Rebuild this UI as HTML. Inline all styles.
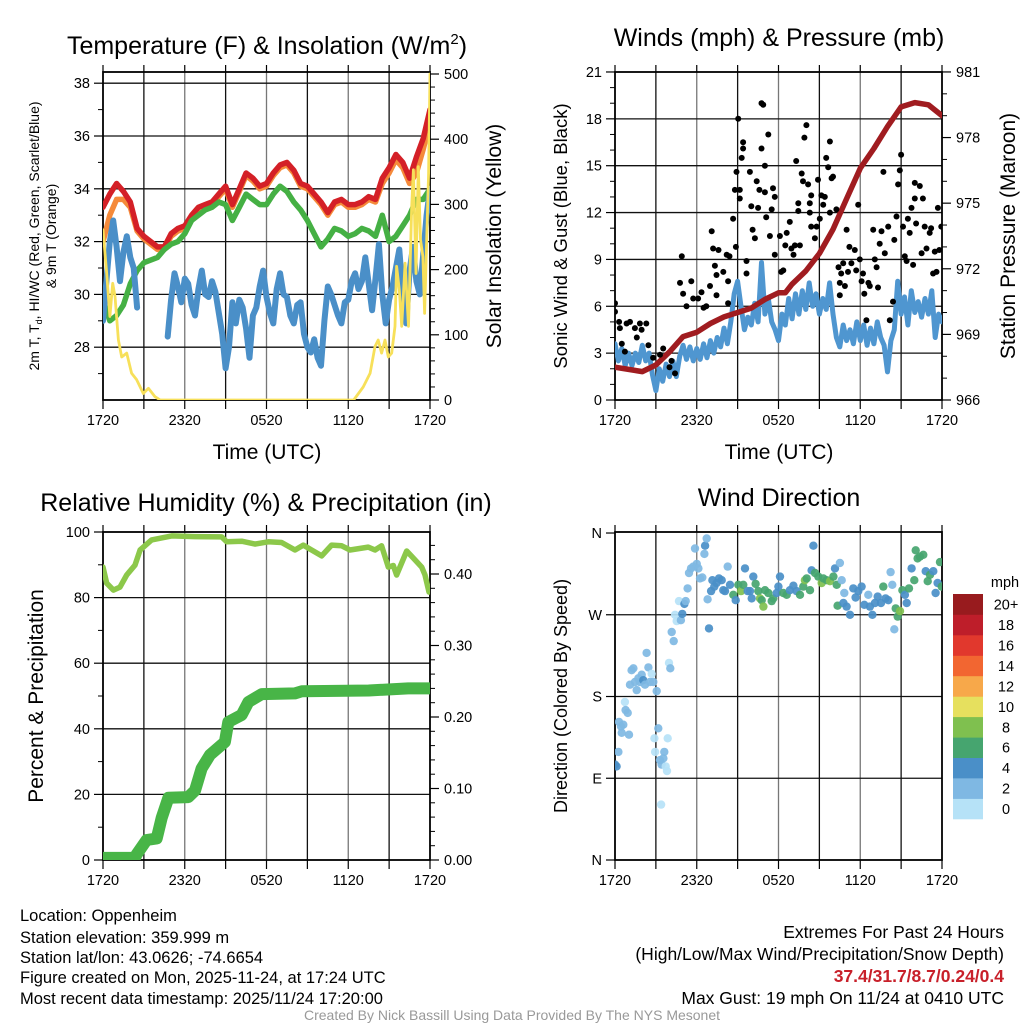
<!DOCTYPE html>
<html><head><meta charset="utf-8">
<style>
html,body{margin:0;padding:0;background:#fff;}
svg{display:block;font-family:"Liberation Sans",Arial,sans-serif;}
</style></head>
<body>
<svg id="fig" xmlns="http://www.w3.org/2000/svg" width="1024" height="1024" viewBox="0 0 1024 1024">
<rect x="0" y="0" width="1024" height="1024" fill="#fff"/>
<defs>
<clipPath id="c1"><rect x="103" y="72" width="327" height="328"/></clipPath>
<clipPath id="c2"><rect x="615" y="72" width="327" height="328"/></clipPath>
<clipPath id="c3"><rect x="103" y="532" width="327" height="328"/></clipPath>
<clipPath id="c4"><rect x="615" y="532" width="327" height="328"/></clipPath>
</defs>
<g id="layer"></g>
<g font-size="25" text-anchor="middle" fill="#000">
<text x="267" y="54">Temperature (F) &amp; Insolation (W/m<tspan font-size="15" dy="-10">2</tspan><tspan dy="10">)</tspan></text>
<text x="779" y="46">Winds (mph) &amp; Pressure (mb)</text>
<text x="266" y="511">Relative Humidity (%) &amp; Precipitation (in)</text>
<text x="779" y="506">Wind Direction</text>
</g>
<g font-size="21" text-anchor="middle">
<text x="267" y="459">Time (UTC)</text>
<text x="779" y="459">Time (UTC)</text>
<text transform="translate(39,236) rotate(-90)" font-size="14">2m T, T<tspan font-size="9" dy="3">d</tspan><tspan dy="-3">, HI/WC (Red, Green, Scarlet/Blue)</tspan></text>
<text transform="translate(56,236) rotate(-90)" font-size="14">&amp; 9m T (Orange)</text>
<text transform="translate(501,236) rotate(-90)">Solar Insolation (Yellow)</text>
<text transform="translate(567,236) rotate(-90)" font-size="18.5">Sonic Wind &amp; Gust (Blue, Black)</text>
<text transform="translate(1015,236) rotate(-90)">Station Pressure (Maroon)</text>
<text transform="translate(43,696) rotate(-90)">Percent &amp; Precipitation</text>
<text transform="translate(567,696) rotate(-90)" font-size="18">Direction (Colored By Speed)</text>
</g>
<g font-size="16.5" fill="#000">
<text x="20" y="921">Location: Oppenheim</text>
<text x="20" y="943">Station elevation: 359.999 m</text>
<text x="20" y="963">Station lat/lon: 43.0626; -74.6654</text>
<text x="20" y="983">Figure created on Mon, 2025-11-24, at 17:24 UTC</text>
<text x="20" y="1004">Most recent data timestamp: 2025/11/24 17:20:00</text>
</g>
<g font-size="17.5" text-anchor="end" fill="#000">
<text x="1004" y="938">Extremes For Past 24 Hours</text>
<text x="1004" y="960">(High/Low/Max Wind/Precipitation/Snow Depth)</text>
<text x="1004" y="982" fill="#c8202a" font-weight="bold">37.4/31.7/8.7/0.24/0.4</text>
<text x="1004" y="1004">Max Gust: 19 mph On 11/24 at 0410 UTC</text>
</g>
<text x="512" y="1020" font-size="14" fill="#999" text-anchor="middle">Created By Nick Bassill Using Data Provided By The NYS Mesonet</text>
</svg>
<script>
// ---------- data ----------
const xTickLabels = ["1720","2320","0520","1120","1720"];
const tempHours = [0,0.5,1,1.5,2,2.5,3,3.5,4,4.5,5,5.5,6,6.5,7,7.5,8,8.5,9,9.5,10,10.5,11,11.5,12,12.5,13,13.5,14,14.5,15,15.5,16,16.5,17,17.5,18,18.5,19,19.5,20,20.5,21,21.5,22,22.5,23,23.5,24];
const tempRed = [33.3,33.8,34.2,33.9,33.5,32.5,32.2,32.0,31.8,31.8,32.3,32.5,32.6,33.0,33.3,33.4,33.5,33.8,34.1,33.4,34.0,34.6,34.4,34.1,34.2,34.6,34.9,35.0,34.7,34.2,34.1,33.8,33.5,33.1,33.5,33.6,33.4,33.4,33.5,33.7,33.6,34.4,34.8,35.3,35.0,34.4,35.2,35.9,37.0];
const temp9m = [32.0,33.0,33.6,33.6,33.3,32.4,32.1,31.9,31.7,31.7,32.2,32.4,32.5,32.9,33.2,33.3,33.4,33.7,34.0,33.3,33.9,34.5,34.3,34.0,34.1,34.5,34.8,34.9,34.6,34.1,34.0,33.7,33.4,33.0,33.4,33.5,33.3,33.3,33.4,33.6,33.5,34.2,34.6,35.1,34.8,34.2,34.6,35.5,36.5];
const dewPoint = [29.8,29.0,29.2,29.6,30.4,30.9,31.2,31.3,31.4,31.7,31.9,32.0,32.3,32.8,33.0,33.2,33.3,33.5,33.4,32.8,33.3,33.8,33.6,33.4,33.4,33.8,34.1,33.9,33.5,33.2,32.8,32.3,31.8,32.1,32.5,32.4,32.2,32.3,32.5,32.4,32.2,33.0,32.0,32.2,32.6,33.0,33.6,33.6,34.0];
const windChill = [29.0,30.5,32.0,32.8,31.8,30.5,31.6,32.2,31.4,31.0,29.5,null,null,null,null,null,null,null,null,28.4,29.8,30.8,30.3,29.7,30.6,30.4,29.6,29.2,30.2,30.9,30.0,29.9,30.5,30.1,29.3,28.5,27.2,28.0,29.7,28.9,29.8,29.5,28.7,27.6,29.2,29.5,30.3,30.9,29.9,29.3,28.9,30.2,30.8,30.0,29.9,29.2,28.9,29.6,29.7,28.5,28.0,27.8,28.3,27.6,27.3,29.0,30.3,30.0,29.6,29.2,28.9,29.7,29.8,30.5,30.8,30.2,30.5,31.4,30.4,29.4,30.6,31.9,30.0,28.9,29.8,30.3,31.0,31.7,30.0,28.9,30.9,31.8,30.5,30.0,31.5,33.0,34.0];
const solarHours = [0,0.27,0.51,0.71,0.88,1.13,1.37,1.74,2.1,2.47,2.96,3.33,3.82,4.2,18.4,19.1,19.6,19.96,20.2,20.45,20.7,20.94,21.19,21.43,21.55,21.75,21.92,22.17,22.42,22.66,22.78,22.97,23.14,23.3,23.48,23.6,23.9,24];
const solarValues = [261,194,128,179,159,92,66,72,41,31,10,18,5,0,0,20,41,82,92,72,92,66,72,113,205,169,113,210,113,297,353,194,358,246,220,133,348,500];
const tempTicks = [28,30,32,34,36,38];
const solarTicks = [0,100,200,300,400,500];

const windSpeed = [3.6,2.5,3.3,2.2,3.0,2.2,3.0,2.4,3.5,2.5,3.0,1.6,0.6,2.0,1.2,2.3,1.5,2.5,1.5,2.8,3.5,2.6,3.4,2.5,3.3,2.6,3.6,2.7,3.8,3.0,4.0,3.4,4.6,3.6,5.0,6.8,7.6,6.0,4.5,5.3,4.8,6.2,5.0,8.8,5.5,6.5,5.0,4.5,3.8,5.5,4.8,6.5,5.2,6.8,5.5,7.0,5.8,7.5,6.0,6.8,5.5,6.5,5.8,7.5,5.5,4.0,3.4,4.8,3.8,4.5,3.6,5.0,3.8,4.8,3.5,4.6,3.6,5.0,4.0,3.5,1.8,3.8,4.5,7.6,5.5,6.6,4.8,7.0,5.6,6.3,5.3,6.5,5.5,7.0,4.0,5.5,5.0];
const pressureHours = [0,1,2,3,4,5,6,7,8,9,10,11,12,12.5,13,14,15,16,17,18,19,20,21,22,23,24];
const pressureValues = [967.5,967.4,967.3,967.6,968.2,968.9,969.1,969.5,969.8,970.0,970.2,970.6,970.9,970.9,971.3,971.9,972.7,973.8,975.2,976.6,977.5,978.5,979.4,979.6,979.5,979.0];
const gustHours = [0,0,0.3,0.36,0.85,1.1,0.5,0.73,1.46,1.83,1.95,2.3,1.6,2.45,2.8,3.54,3.3,4.0,4.4,4.15,4.9,4.77,5.0,5.25,5.6,5.74,6.1,6.35,6.5,6.7,6.97,7.1,7.2,7.45,7.33,7.6,7.45,7.95,8.2,8.3,8.4,8.3,8.67,8.8,8.92,9.16,9.04,9.3,9.4,9.4,8.87,9.16,9.65,9.65,9.9,10.0,10.1,10.27,10.4,10.5,10.6,10.75,10.75,10.88,11.0,11.0,11.1,11.25,11.37,11.5,11.6,11.73,11.73,12.1,12.2,12.35,12.5,12.6,12.83,12.95,13.1,13.2,13.3,13.45,13.45,13.57,13.7,13.8,13.9,14.05,14.17,14.3,14.3,14.4,14.4,14.67,14.8,14.9,15.03,15.15,15.28,15.4,15.5,15.65,15.77,15.77,15.9,16.0,16.25,16.4,16.5,16.5,16.6,16.75,16.87,17.0,17.1,17.2,17.35,17.6,17.7,17.85,17.97,18.1,18.2,18.3,18.45,18.6,18.7,18.95,19.07,19.2,19.3,19.43,19.56,19.7,19.8,20.05,20.17,20.4,20.5,20.66,20.78,20.9,21.0,21.14,21.27,21.4,21.5,21.63,21.76,21.88,22.0,22.0,22.1,22.37,22.5,22.6,22.73,22.86,23.1,23.2,23.35,23.47,23.7,23.8,23.95,23.6];
const gustSpeeds = [6.2,5.65,5.0,4.6,4.9,5.0,3.6,3.1,4.6,4.9,4.5,4.9,4.0,3.5,2.7,3.3,2.9,2.1,1.7,2.5,9.2,7.5,6.8,6.0,7.6,6.5,6.5,6.9,5.9,6.0,7.3,10.8,9.7,6.7,8.6,9.6,8.0,8.2,9.3,7.6,9.2,6.2,11.6,13.45,14.6,13.45,18.0,15.5,16.5,16.1,9.8,12.9,8.9,8.1,14.6,12.4,10.9,10.35,14.0,12.3,13.45,16.1,19.0,18.9,15.0,13.3,11.7,17.0,10.5,12.2,13.55,13.0,9.3,10.5,8.2,8.3,9.9,10.7,11.4,9.7,9.3,9.9,15.3,12.6,12.1,9.9,14.5,14.0,16.8,17.6,13.8,12.6,12.0,11.1,13.1,10.35,11.1,14.1,11.6,13.1,12.5,13.0,15.5,14.9,16.55,12.0,14.2,14.3,12.2,8.5,6.7,7.5,8.1,8.75,7.3,10.9,8.2,9.8,8.75,9.6,8.3,12.5,9.0,7.6,8.1,6.8,5.1,7.5,7.3,10.9,9.0,8.5,7.2,10.0,10.8,14.6,9.4,11.1,5.1,6.3,10.25,11.75,13.8,14.7,15.7,11.1,9.2,8.9,11.6,10.7,12.3,8.65,13.9,12.9,11.3,13.7,9.4,12.9,11.1,9.7,10.7,11.0,8.1,9.5,12.3,9.6,11.1,8.2];
const windTicks = [0,3,6,9,12,15,18,21];
const pressureTicks = [966,969,972,975,978,981];

const rhHours = [0,0.27,0.76,1.25,1.74,2.35,2.72,3.57,5.04,6.75,8.71,9.08,10.18,11.16,12.13,13.11,14.09,14.7,15.31,16.05,16.78,17.52,18.13,19.47,19.96,20.45,20.94,21.31,21.55,22.29,22.9,23.39,23.63,23.93];
const rhValues = [89.3,84.4,82.3,83.2,86.9,89.9,94.5,97.6,98.8,98.6,98.5,97.0,97.2,96.3,97.0,96.8,94.5,96.0,94.5,92.7,96.0,95.8,94.5,95.4,94.5,95.8,89.3,89.8,86.9,94.2,91.5,89.3,86.9,81.7];
const precipHours = [0,2.35,2.47,3.2,3.94,4.31,4.8,6.26,6.75,7.24,7.85,8.95,9.2,10.18,10.67,11.65,14.09,14.58,19.5,22.4,24];
const precipValues = [0.003,0.003,0.008,0.028,0.03,0.059,0.087,0.088,0.097,0.128,0.147,0.165,0.193,0.203,0.221,0.232,0.233,0.236,0.237,0.24,0.24];
const percentTicks = [0,20,40,60,80,100];
const precipTicks = ["0.00","0.10","0.20","0.30","0.40"];

const dirHours = [0,0.12,0.25,0.29,0.44,0.49,0.61,0.73,0.78,0.93,1.03,1.1,1.22,1.35,1.47,1.59,1.71,1.83,1.96,2.08,2.2,2.32,2.45,2.57,2.69,2.81,2.89,2.94,3.06,3.18,3.3,3.38,3.42,3.55,3.62,3.72,3.82,3.87,3.96,4.06,4.16,4.31,4.4,4.53,4.7,4.84,4.94,5.09,5.19,5.33,5.43,5.58,5.75,5.87,6.0,6.12,6.24,6.41,6.56,6.61,6.73,6.8,6.9,7.05,7.15,7.29,7.46,7.63,7.83,7.95,8.07,8.27,8.44,8.68,8.86,9.05,9.25,9.42,9.54,9.74,9.91,10.03,10.15,10.32,10.52,10.64,10.77,10.89,11.01,11.25,11.5,11.62,11.87,11.99,12.11,12.35,12.6,12.84,13.09,13.33,13.58,13.82,13.94,14.07,14.31,14.43,14.56,14.68,14.92,15.17,15.29,15.54,15.78,16.03,16.15,16.27,16.51,16.64,16.83,16.34,16.76,17.0,17.25,17.49,17.66,17.86,18.1,18.3,18.59,18.71,18.89,19.08,19.28,19.52,19.69,19.86,20.06,20.23,20.35,20.5,20.6,20.75,20.92,21.09,21.28,21.41,21.58,21.77,21.97,22.07,22.21,22.38,22.63,22.8,22.95,23.12,23.36,23.53,23.68,23.85,23.98];
const dirDegrees = [105,103,119,152,147,140,149,174,165,162,138,193,209,211,196,187,200,196,204,198,193,228,212,196,205,196,134,119,186,145,110,61,105,112,119,103,98,134,217,211,251,241,270,263,285,264,271,282,285,299,316,321,323,343,326,321,310,311,337,346,354,287,255,296,308,301,305,310,308,297,296,323,303,292,286,303,296,303,321,296,296,288,312,304,296,288,286,279,297,294,285,288,294,301,312,294,292,297,302,296,292,301,308,310,297,319,346,316,312,305,310,308,307,312,321,303,327,308,294,280,283,279,270,299,289,296,301,281,292,279,270,283,290,283,301,288,286,317,303,254,277,268,274,297,292,283,299,321,308,341,332,334,336,318,307,314,318,294,305,328,301];
const dirSpeeds = [4,4,2,2,2,2,2,1,2,2,2,2,2,2,2,2,2,3,2,4,2,2,2,2,1,2,1,1,3,3,3,1,3,3,2,1,1,1,1,2,2,2,1,1,1,2,4,4,2,2,2,2,2,2,2,2,2,2,2,4,2,2,4,4,4,4,4,4,4,4,4,2,4,6,4,6,8,6,4,4,4,4,4,6,6,8,6,8,6,6,6,6,4,4,4,6,6,4,4,4,6,6,8,6,6,4,4,6,6,8,6,6,8,6,4,6,2,2,2,6,4,4,4,4,4,4,4,4,2,4,4,4,4,4,6,4,4,2,2,2,6,6,8,6,4,4,6,4,6,6,6,6,6,4,6,6,4,4,4,6,6];
const dirTickLabels = ["N","E","S","W","N"];
const speedBins = ["0","2","4","6","8","10","12","14","16","18","20+"];
const speedColors = ["#b6e2f7","#7fb8e3","#4a8fc8","#46a56f","#7fc04f","#e6e05e","#f7a84a","#f26631","#e1382d","#be1e2a","#981b1e"];

// ---------- axis functions ----------
const x1 = h => 103 + h * 13.625;
const x2 = h => 615 + h * 13.625;
const yT = t => 400 - (t - 26) * 26.4;
const yS = s => 400 - s * 0.652;
const yW = w => 400 - w * 15.62;
const yP = p => 400 - (p - 966) * 21.87;
const yRH = r => 860 - r * 3.28;
const yPr = p => 860 - p * 715;
const yD = d => 860 - d * 0.9083;

const NS = "http://www.w3.org/2000/svg";
const layer = document.getElementById('layer');
function mk(tag, attrs, name, parent) {
  const el = document.createElementNS(NS, tag);
  for (const k in attrs) el.setAttribute(k, attrs[k]);
  
  
  (parent || layer).appendChild(el);
  return el;
}
function pathD(xs, ys, fx, fy) {
  let d = "", pen = false;
  for (let i = 0; i < xs.length; i++) {
    if (ys[i] === null || ys[i] === undefined) { pen = false; continue; }
    d += (pen ? "L" : "M") + fx(xs[i]).toFixed(1) + "," + fy(ys[i]).toFixed(1);
    pen = true;
  }
  return d;
}
const quarterHours = windSpeed.map((v, i) => i * 0.25);

// ---------- panel frame ----------
function panel(px, py, key, hGrid, leftTicks, leftFn, leftLabels, leftMinor, rightTicks, rightFn, rightLabels, rightMinor) {
  const g = mk('g', {}, key + '-axes');
  for (let k = 1; k < 8; k++) {
    const xx = px + k * 40.875;
    mk('line', {x1: xx, y1: py, x2: xx, y2: py + 328, stroke: (k % 2 ? '#111' : '#777'), 'stroke-width': 1.3}, key + '-vgrid', g);
  }
  hGrid.forEach(v => {
    mk('line', {x1: px, y1: v, x2: px + 327, y2: v, stroke: '#111', 'stroke-width': 1.3}, key + '-hgrid', g);
  });
  mk('rect', {x: px, y: py, width: 327, height: 328, fill: 'none', stroke: '#000', 'stroke-width': 1.8}, key + '-frame', g);
  for (let k = 0; k <= 8; k++) {
    const xx = px + k * 40.875;
    mk('line', {x1: xx, y1: py + 328, x2: xx, y2: py + 337, stroke: '#000', 'stroke-width': 1.2}, key + '-x-tick', g);
    mk('line', {x1: xx, y1: py, x2: xx, y2: py - 7, stroke: '#000', 'stroke-width': 1.2}, key + '-top-tick', g);
  }
  xTickLabels.forEach((t, i) => {
    const tx = mk('text', {x: px + i * 81.75, y: py + 353, 'font-size': 14.5, 'text-anchor': 'middle'}, key + '-x-tick-label', g);
    tx.textContent = t;
  });
  leftTicks.forEach((v, i) => {
    const yy = leftFn(v);
    mk('line', {x1: px - 9, y1: yy, x2: px, y2: yy, stroke: '#000', 'stroke-width': 1.2}, key + '-y-tick', g);
    const tx = mk('text', {x: px - 13, y: yy + 5, 'font-size': 14.5, 'text-anchor': 'end'}, key + '-y-tick-label', g);
    tx.textContent = leftLabels[i];
  });
  leftMinor.forEach(v => {
    const yy = leftFn(v);
    mk('line', {x1: px - 5, y1: yy, x2: px, y2: yy, stroke: '#000', 'stroke-width': 1}, key + '-y-minor-tick', g);
  });
  rightTicks.forEach((v, i) => {
    const yy = rightFn(v);
    mk('line', {x1: px + 327, y1: yy, x2: px + 336, y2: yy, stroke: '#000', 'stroke-width': 1.2}, key + '-right-tick', g);
    const tx = mk('text', {x: px + 341, y: yy + 5, 'font-size': 14.5, 'text-anchor': 'start'}, key + '-right-tick-label', g);
    tx.textContent = rightLabels[i];
  });
  rightMinor.forEach(v => {
    const yy = rightFn(v);
    mk('line', {x1: px + 327, y1: yy, x2: px + 332, y2: yy, stroke: '#000', 'stroke-width': 1}, key + '-right-minor-tick', g);
  });
}

panel(103, 72, 'temp', tempTicks.map(yT), tempTicks, yT, tempTicks.map(String), [27,29,31,33,35,37],
  solarTicks, yS, solarTicks.map(String), [20,40,60,80,120,140,160,180,220,240,260,280,320,340,360,380,420,440,460,480]);
panel(615, 72, 'wind', windTicks.slice(1, 7).map(yW), windTicks, yW, windTicks.map(String), [1,2,4,5,7,8,10,11,13,14,16,17,19,20],
  pressureTicks, yP, pressureTicks.map(String), [967,968,970,971,973,974,976,977,979,980]);
panel(103, 532, 'humidity', [20,40,60,80].map(yRH), percentTicks, yRH, percentTicks.map(String), [10,30,50,70,90],
  precipTicks.map(Number), yPr, precipTicks, [0.02,0.04,0.06,0.08,0.12,0.14,0.16,0.18,0.22,0.24,0.26,0.28,0.32,0.34,0.36,0.38,0.42,0.44]);
panel(615, 532, 'direction', [90,180,270].map(yD), [0,90,180,270,360], yD, dirTickLabels, [], [], yD, [], []);

// ---------- series ----------
const g1 = mk('g', {'clip-path': 'url(#c1)', fill: 'none', 'stroke-linejoin': 'round', 'stroke-linecap': 'round'}, 'temperature-series');
mk('path', {d: pathD(tempHours, temp9m, x1, yT), stroke: '#f58a3a', 'stroke-width': 5.5}, 'line-9m-temperature', g1);
mk('path', {d: pathD(tempHours, tempRed, x1, yT), stroke: '#d42027', 'stroke-width': 5.5}, 'line-2m-temperature', g1);
mk('path', {d: pathD(tempHours, dewPoint, x1, yT), stroke: '#45b044', 'stroke-width': 5.5}, 'line-dew-point', g1);
mk('path', {d: pathD(quarterHours, windChill, x1, yT), stroke: '#4a8fc8', 'stroke-width': 6}, 'line-wind-chill', g1);
mk('path', {d: pathD(solarHours, solarValues, x1, yS), stroke: '#f7e05a', 'stroke-width': 2.8}, 'line-solar-insolation', g1);

const g2 = mk('g', {'clip-path': 'url(#c2)', fill: 'none', 'stroke-linejoin': 'round', 'stroke-linecap': 'round'}, 'wind-series');
mk('path', {d: pathD(quarterHours, windSpeed, x2, yW), stroke: '#4f96d0', 'stroke-width': 5}, 'line-wind-speed', g2);
mk('path', {d: pathD(pressureHours, pressureValues, x2, yP), stroke: '#a01c20', 'stroke-width': 5.5}, 'line-station-pressure', g2);
gustHours.forEach((h, i) => {
  mk('circle', {cx: x2(h).toFixed(1), cy: yW(gustSpeeds[i]).toFixed(1), r: 3, fill: '#000', stroke: 'none'}, 'gust-point', g2);
});

const g3 = mk('g', {'clip-path': 'url(#c3)', fill: 'none', 'stroke-linejoin': 'round', 'stroke-linecap': 'round'}, 'humidity-series');
mk('path', {d: pathD(rhHours, rhValues, x1, yRH), stroke: '#8cc84a', 'stroke-width': 5.5}, 'line-relative-humidity', g3);
mk('path', {d: pathD(precipHours, precipValues, x1, yPr), stroke: '#48b547', 'stroke-width': 12}, 'line-precipitation', g3);

const g4 = mk('g', {'clip-path': 'url(#c4)'}, 'direction-series');
dirHours.forEach((h, i) => {
  const bin = Math.min(10, Math.floor(dirSpeeds[i] / 2));
  mk('circle', {cx: x2(h).toFixed(1), cy: yD(dirDegrees[i]).toFixed(1), r: 4.2, fill: speedColors[bin], 'fill-opacity': 0.92}, 'direction-point', g4);
});

// ---------- colorbar ----------
const cb = mk('g', {}, 'speed-colorbar');
const cbTitle = mk('text', {x: 1005, y: 587, 'font-size': 14.5, 'text-anchor': 'middle'}, 'colorbar-title', cb);
cbTitle.textContent = 'mph';
speedBins.forEach((lab, i) => {
  const top = 819 - (i + 1) * 20.45;
  mk('rect', {x: 953, y: top.toFixed(1), width: 30, height: 20.8, fill: speedColors[i]}, 'colorbar-swatch', cb);
  const t = mk('text', {x: 1006, y: (top + 15.5).toFixed(1), 'font-size': 14.5, 'text-anchor': 'middle'}, 'colorbar-label', cb);
  t.textContent = lab;
});
</script>
</body></html>
